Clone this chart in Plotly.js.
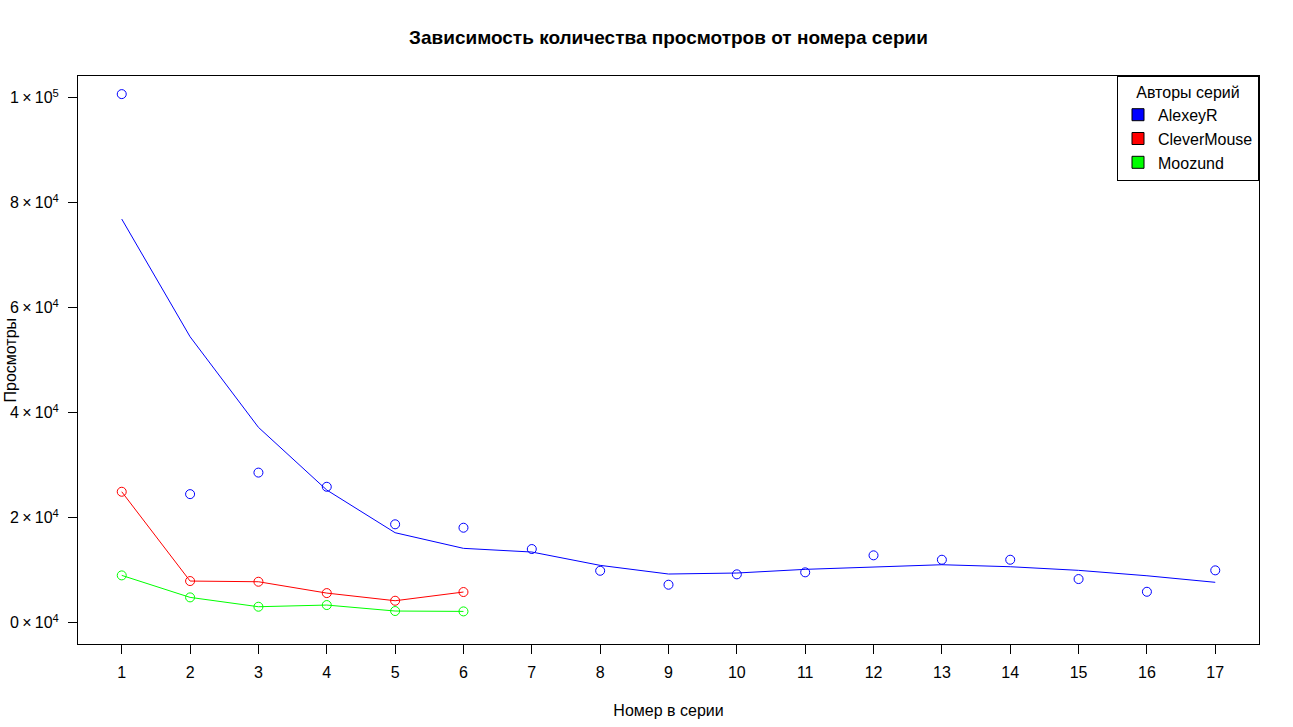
<!DOCTYPE html>
<html>
<head>
<meta charset="utf-8">
<script src="https://cdn.plot.ly/plotly-3.0.1.min.js"></script>
<style>
  body { margin: 0; background: #fff; }
  #chart { width: 1293px; height: 727px; }
</style>
</head>
<body>
<div id="chart"></div>
<script>
// номера серий
var seriesAlexeyR = [1, 2, 3, 4, 5, 6, 7, 8, 9, 10, 11, 12, 13, 14, 15, 16, 17];
var seriesCleverMouse = [1, 2, 3, 4, 5, 6];
var seriesMoozund = [1, 2, 3, 4, 5, 6];

// просмотры (точки)
var viewsAlexeyR = [100700, 24500, 28600, 25900, 18750, 18100, 14040, 9900, 7240,
                    9220, 9600, 12840, 12000, 12000, 8320, 5900, 9980];
var viewsCleverMouse = [24950, 7940, 7810, 5650, 4190, 5850];
var viewsMoozund = [9020, 4830, 3050, 3370, 2230, 2160];

// сглаженная кривая AlexeyR
var smoothAlexeyR = [76900, 54480, 37220, 25280, 17150, 14170, 13470, 10930, 9280,
                     9470, 10170, 10670, 11050, 10670, 9980, 8950, 7700];

var authors = ["AlexeyR", "CleverMouse", "Moozund"];
var colors = ["#0000ff", "#ff0000", "#00ff00"];

var yTicks = [0, 20000, 40000, 60000, 80000, 100000];
var yTickText = ["0\u2009×\u200910<sup>4</sup>", "2\u2009×\u200910<sup>4</sup>",
                 "4\u2009×\u200910<sup>4</sup>", "6\u2009×\u200910<sup>4</sup>",
                 "8\u2009×\u200910<sup>4</sup>", "1\u2009×\u200910<sup>5</sup>"];

var font = "'Liberation Sans', Arial, sans-serif";

function pts(x, y, c) {
  return {
    x: x, y: y, type: "scatter", mode: "markers", showlegend: false,
    marker: { symbol: "circle-open", size: 9, color: c, line: { width: 1, color: c } }
  };
}
function line(x, y, c) {
  return {
    x: x, y: y, type: "scatter", mode: "lines", showlegend: false,
    line: { color: c, width: 1 }
  };
}

var data = [
  line(seriesAlexeyR, smoothAlexeyR, colors[0]),
  pts(seriesAlexeyR, viewsAlexeyR, colors[0]),
  line(seriesCleverMouse, viewsCleverMouse, colors[1]),
  pts(seriesCleverMouse, viewsCleverMouse, colors[1]),
  line(seriesMoozund, viewsMoozund, colors[2]),
  pts(seriesMoozund, viewsMoozund, colors[2])
];

// записи легенды (квадраты)
for (var i = 0; i < authors.length; i++) {
  data.push({
    x: [null], y: [null], type: "bar", name: authors[i],
    marker: { color: colors[i], line: { color: "#000", width: 1 } }
  });
}

var layout = {
  width: 1293,
  height: 727,
  paper_bgcolor: "#fff",
  plot_bgcolor: "#fff",
  font: { family: font, size: 16, color: "#000" },
  margin: { l: 78, r: 34, t: 76, b: 83 },
  title: {
    text: "<b>Зависимость количества просмотров от номера серии</b>",
    font: { size: 19, family: font },
    x: 0.5, xref: "paper", y: 0.948, yanchor: "middle"
  },
  xaxis: {
    range: [0.36, 17.64],
    tickmode: "array",
    tickvals: seriesAlexeyR,
    ticks: "outside", ticklen: 9, tickwidth: 1, tickcolor: "#000",
    showgrid: false, zeroline: false,
    showline: true, mirror: true, linecolor: "#000", linewidth: 1,
    ticklabelstandoff: 5,
    title: { text: "Номер в серии", font: { size: 16 }, standoff: 24 }
  },
  yaxis: {
    range: [-4050, 104150],
    tickmode: "array",
    tickvals: yTicks,
    ticktext: yTickText,
    ticks: "outside", ticklen: 9, tickwidth: 1, tickcolor: "#000",
    showgrid: false, zeroline: false,
    showline: true, mirror: true, linecolor: "#000", linewidth: 1,
    ticklabelstandoff: 6
  },
  annotations: [{
    text: "Просмотры", textangle: -90, showarrow: false,
    xref: "paper", yref: "paper", x: -0.058, y: 0.5,
    xanchor: "center", yanchor: "middle", font: { size: 16 }
  }],
  legend: {
    x: 1, xanchor: "right", y: 1, yanchor: "top",
    bgcolor: "#fff", bordercolor: "#000", borderwidth: 1,
    font: { size: 16 },
    title: { text: "Авторы серий", side: "top center", font: { size: 16 } },
    tracegroupgap: 0
  },
  showlegend: true
};

Plotly.newPlot("chart", data, layout, { displayModeBar: false, staticPlot: true });
</script>
</body>
</html>
